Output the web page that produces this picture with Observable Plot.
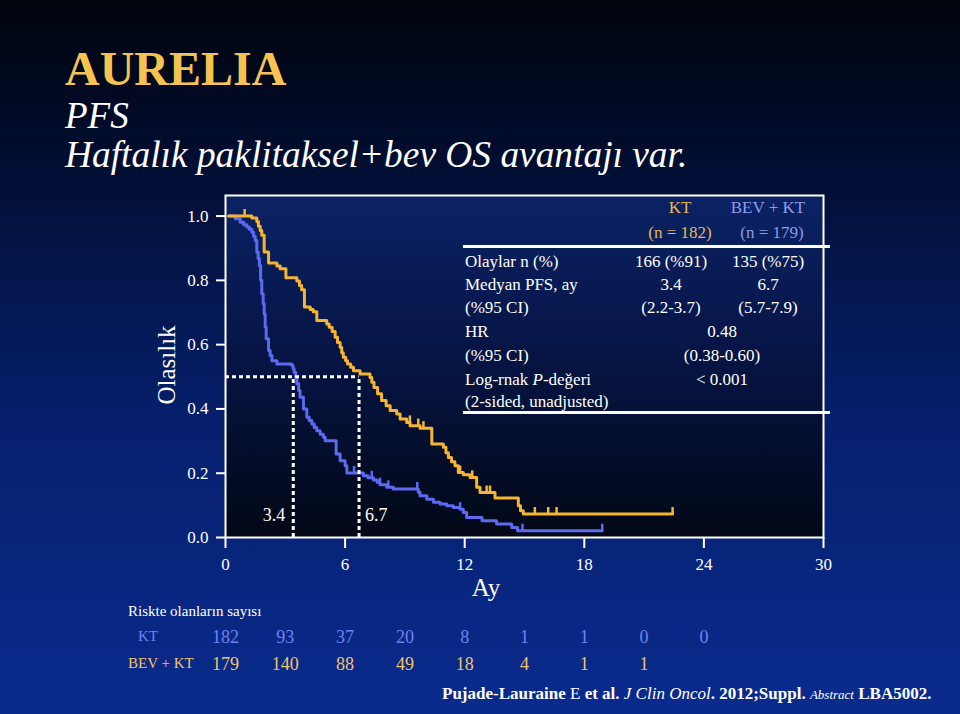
<!DOCTYPE html>
<html><head><meta charset="utf-8">
<script src="https://cdn.jsdelivr.net/npm/d3@7"></script>
<script src="https://cdn.jsdelivr.net/npm/@observablehq/plot@0.6"></script>
<style>
html,body{margin:0;padding:0;background:#000;}
#stage{position:relative;width:960px;height:714px;overflow:hidden;
  background:linear-gradient(to bottom,#00040c 0%,#02103a 28%,#06206e 60%,#0a2b8e 100%);
  font-family:"Liberation Serif","Times New Roman",serif;color:#fff;}
.t{position:absolute;line-height:1;white-space:nowrap;}
.it{font-style:italic;}
#stage svg{position:absolute;left:0;}
</style></head><body><div id="stage"></div>
<script>
// ---------- data ----------
const ktTimes = [0.2,0.49,0.74,0.91,1.07,1.19,1.32,1.41,1.49,1.57,1.64,1.70,1.76,1.82,1.89,1.94,1.99,2.04,2.16,2.24,2.33,2.58,3.33,3.39,3.44,3.52,3.58,3.67,3.74,3.91,4.08,4.20,4.33,4.45,4.58,4.75,4.91,5.00,5.55,5.75,6.00,6.09,6.92,7.15,7.42,7.61,7.75,8.09,8.42,9.67,9.76,10.10,10.43,10.76,11.10,11.43,11.76,11.93,12.10,12.87,13.60,14.36,14.65,18.9];
const ktSurv  = [1.0,0.992,0.981,0.973,0.966,0.959,0.950,0.937,0.924,0.888,0.868,0.846,0.800,0.758,0.728,0.696,0.656,0.618,0.582,0.566,0.550,0.540,0.535,0.526,0.514,0.498,0.478,0.457,0.436,0.400,0.374,0.364,0.353,0.342,0.332,0.321,0.312,0.301,0.260,0.239,0.223,0.201,0.192,0.186,0.179,0.172,0.164,0.156,0.151,0.141,0.130,0.119,0.110,0.104,0.099,0.093,0.088,0.078,0.062,0.052,0.042,0.031,0.021,0.021];
const ktCensor = [6.45,7.34,7.75,8.17,9.62,11.77,14.9,18.9];

const bevTimes = [0.15,1.32,1.57,1.65,1.74,1.82,1.94,2.16,2.58,2.74,3.03,3.58,3.71,3.82,3.96,4.25,4.40,4.58,5.08,5.20,5.35,5.50,5.62,5.75,5.83,5.91,6.03,6.12,6.28,6.42,6.75,7.25,7.34,7.45,7.63,7.83,8.06,8.26,8.59,8.76,9.09,9.26,9.76,10.35,10.93,11.06,11.18,11.34,11.51,11.68,11.93,12.27,12.60,12.77,13.52,14.69,14.80,14.94,22.43];
const bevSurv  = [1.0,0.994,0.983,0.968,0.955,0.940,0.888,0.854,0.845,0.836,0.808,0.798,0.784,0.771,0.717,0.709,0.702,0.675,0.664,0.654,0.641,0.623,0.607,0.592,0.575,0.561,0.550,0.540,0.530,0.519,0.509,0.498,0.483,0.467,0.447,0.426,0.410,0.395,0.384,0.369,0.358,0.348,0.340,0.291,0.281,0.264,0.249,0.236,0.223,0.202,0.195,0.187,0.156,0.140,0.123,0.099,0.083,0.073,0.073];
const bevCensor = [0.96,9.25,9.67,9.93,11.77,12.38,13.1,13.27,15.52,16.19,16.61,22.43];

const medians = [3.4, 6.7];
const xTicks = [0,6,12,18,24,30];
const yTicks = [0,0.2,0.4,0.6,0.8,1.0];

const riskTimes = [0,3,6,9,12,15,18,21,24];
const riskKT  = [182,93,37,20,8,1,1,0,0];
const riskBEV = [179,140,88,49,18,4,1,1];
const riskGroups = ["KT","BEV + KT"];

const armLabels = ["KT","BEV + KT"];
const armN = ["(n = 182)","(n = 179)"];
const rowLabels = ["Olaylar n (%)","Medyan PFS, ay","(%95 CI)","HR","(%95 CI)","Log-rnak <i>P</i>-değeri","(2-sided, unadjusted)"];
const rowKT  = ["166 (%91)","3.4","(2.2-3.7)"];
const rowBEV = ["135 (%75)","6.7","(5.7-7.9)"];
const rowBoth = ["0.48","(0.38-0.60)","< 0.001"];

// ---------- colours ----------
const blue = "#5b6af0", orange = "#f6b530", gold = "#f7c350";
const blueText = "#7282ee", goldText = "#f2c469";

const stage = document.getElementById("stage");
function txt(html, x, base, size, o = {}) {
  const d = document.createElement("div");
  d.className = "t" + (o.italic ? " it" : "");
  d.innerHTML = html;
  d.style.left = x + "px";
  d.style.top = (base - 0.8375 * size) + "px";
  d.style.fontSize = size + "px";
  if (o.anchor === "middle") d.style.transform = "translateX(-50%)";
  if (o.anchor === "end") d.style.transform = "translateX(-100%)";
  if (o.color) d.style.color = o.color;
  if (o.bold) d.style.fontWeight = "bold";
  stage.appendChild(d);
  return d;
}

// titles
txt("AURELIA", 65, 85, 48, {bold: true, color: gold});
txt("PFS", 65, 128, 37, {italic: true});
txt("Haftalık paklitaksel+bev OS avantajı var.", 65, 167, 37.4, {italic: true});

// ---------- KM plot ----------
const kt = ktTimes.map((t, i) => ({t, s: ktSurv[i]}));
const bev = bevTimes.map((t, i) => ({t, s: bevSurv[i]}));
function stepAt(times, surv, t) {
  let s = surv[0];
  for (let i = 0; i < times.length; i++) if (times[i] <= t) s = surv[i];
  return s;
}
const ktC = ktCensor.map(t => ({t, s: stepAt(ktTimes, ktSurv, t)}));
const bevC = bevCensor.map(t => ({t, s: stepAt(bevTimes, bevSurv, t)}));
const tickSym = {draw(ctx, size) { const r = Math.sqrt(size / Math.PI); ctx.moveTo(0, 0); ctx.lineTo(0, -r); }};

const chart = Plot.plot({
  width: 960, height: 610,
  marginLeft: 225, marginRight: 137, marginTop: 195, marginBottom: 73,
  x: {domain: [0, 30]},
  y: {domain: [0, 1.064]},
  style: {background: "none", color: "white", fontFamily: "Liberation Serif, serif", fontSize: "17px", overflow: "visible"},
  marks: [
    Plot.frame({fill: "url(#frameGrad)", stroke: "none"}),
    Plot.line(kt, {x: "t", y: "s", curve: "step-after", stroke: blue, strokeWidth: 3}),
    Plot.dot(ktC, {x: "t", y: "s", symbol: tickSym, r: 7, fill: "none", stroke: blue, strokeWidth: 2.5}),
    Plot.line(bev, {x: "t", y: "s", curve: "step-after", stroke: orange, strokeWidth: 3}),
    Plot.dot(bevC, {x: "t", y: "s", symbol: tickSym, r: 7, fill: "none", stroke: orange, strokeWidth: 2.5}),
    Plot.ruleY([0.5], {x1: 0, x2: medians[1], stroke: "white", strokeWidth: 3, strokeDasharray: "4,3"}),
    Plot.ruleX(medians, {y1: 0, y2: 0.5, stroke: "white", strokeWidth: 3, strokeDasharray: "4,3"}),
    Plot.text([medians[0]], {x: d => d, frameAnchor: "bottom", dy: -17, dx: -8, textAnchor: "end", text: d => d.toFixed(1), fill: "white", fontSize: 18}),
    Plot.text([medians[1]], {x: d => d, frameAnchor: "bottom", dy: -17, dx: 6, textAnchor: "start", text: d => d.toFixed(1), fill: "white", fontSize: 18}),
    Plot.frame({stroke: "white", strokeWidth: 2, fill: "none"}),
    Plot.axisX({ticks: xTicks, tickSize: 11, tickPadding: 9, strokeWidth: 2, label: null, fontSize: 17, fill: "white"}),
    Plot.axisY({ticks: yTicks, tickFormat: d3.format(".1f"), tickSize: 9, tickPadding: 8, strokeWidth: 2, label: null, fontSize: 17, fill: "white"})
  ]
});
const defs = d3.select(chart).insert("defs", ":first-child");
const g = defs.append("linearGradient").attr("id", "frameGrad").attr("x1", 0).attr("y1", 0).attr("x2", 0).attr("y2", 1);
g.append("stop").attr("offset", "0%").attr("stop-color", "#0b2264");
g.append("stop").attr("offset", "45%").attr("stop-color", "#061546");
g.append("stop").attr("offset", "100%").attr("stop-color", "#020816");
chart.style.top = "0px";
stage.appendChild(chart);

// axis titles
const yl = txt("Olasılık", 166, 365, 25);
yl.style.top = "365px";
yl.style.transform = "translate(-50%,-50%) rotate(-90deg)";
txt("Ay", 486, 596, 25, {anchor: "middle"});

// ---------- results table ----------
txt(armLabels[0], 680, 213, 17, {anchor: "middle", color: "#e6b955"});
txt(armN[0], 680, 238, 17, {anchor: "middle", color: "#e6b955"});
txt(armLabels[1], 768, 213, 17, {anchor: "middle", color: "#8e9ce8"});
txt(armN[1], 772, 238, 17, {anchor: "middle", color: "#8e9ce8"});
const rowBase = [267, 290.5, 313.5, 337.5, 361.5, 385.5, 407];
rowLabels.forEach((l, i) => txt(l, 465, rowBase[i], 17));
rowKT.forEach((v, i) => txt(v, 671, rowBase[i], 17, {anchor: "middle"}));
rowBEV.forEach((v, i) => txt(v, 768, rowBase[i], 17, {anchor: "middle"}));
rowBoth.forEach((v, i) => txt(v, 722, rowBase[i + 3], 17, {anchor: "middle"}));
function hline(y) {
  const d = document.createElement("div");
  d.style.cssText = `position:absolute;left:463px;width:367px;top:${y - 1.5}px;height:3px;background:#fff;`;
  stage.appendChild(d);
}
hline(246.7); hline(412.7);

// ---------- number at risk ----------
const riskRows = [
  ...riskKT.map((n, i) => ({t: riskTimes[i], n, g: riskGroups[0]})),
  ...riskBEV.map((n, i) => ({t: riskTimes[i], n, g: riskGroups[1]}))
];
const risk = Plot.plot({
  width: 960, height: 90,
  marginLeft: 225, marginRight: 137, marginTop: 37, marginBottom: 26,
  x: {domain: [0, 30], axis: null},
  y: {type: "point", domain: riskGroups, axis: null, padding: 0},
  style: {background: "none", color: "white", fontFamily: "Liberation Serif, serif", overflow: "visible"},
  marks: [
    Plot.text(riskRows.filter(d => d.g === riskGroups[0]), {x: "t", y: "g", text: "n", fill: blueText, fontSize: 18}),
    Plot.text(riskRows.filter(d => d.g === riskGroups[1]), {x: "t", y: "g", text: "n", fill: goldText, fontSize: 18})
  ]
});
risk.style.top = "600px";
stage.appendChild(risk);
txt("Riskte olanların sayısı", 128, 617, 15);
txt(riskGroups[0], 148, 642, 15, {anchor: "middle", color: blueText});
txt(riskGroups[1], 128, 669, 15, {color: goldText});

// citation
txt('<b>Pujade-Lauraine</b> E <b>et al.</b> <i>J Clin Oncol</i><b>. 2012;Suppl.</b> <i style="font-size:13px">Abstract</i> <b>LBA5002.</b>', 442, 699, 17);
</script></body></html>
